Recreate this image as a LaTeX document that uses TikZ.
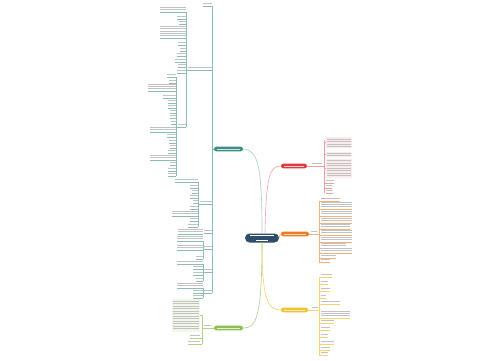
\documentclass[tikz,border=0pt]{standalone}
\begin{document}
\begin{tikzpicture}[x=1pt,y=-1pt]
\definecolor{cdark}{HTML}{2E4D6B}
\definecolor{cteal}{HTML}{3F8F84}
\definecolor{cred}{HTML}{E0393E}
\definecolor{corange}{HTML}{EE7A22}
\definecolor{cyellow}{HTML}{F2C12E}
\definecolor{cgreen}{HTML}{8CC152}
\useasboundingbox (0,0) rectangle (500,360);
\fill[white] (0,0) rectangle (500,360);
\tikzset{pill/.style={rounded corners=2.3pt,minimum height=4.6pt,inner sep=0pt,text width=0pt},
  thinline/.style={line width=0.3pt}}
% text bars: color, xleft, xright, y(baseline underline), lines
\newcommand\tb[5]{\foreach \k in {1,...,#5}{\fill[black!24] (#2,#4-0.5-2.3*\k) rectangle (#3,#4+0.4-2.3*\k);}\draw[#1,thinline] (#2,#4) -- (#3,#4);}
% main nodes
\node[pill,fill=cdark,minimum width=34pt,minimum height=9pt,rounded corners=4.5pt] (c) at (262,238) {};
\fill[white] (250,235.4) rectangle (274,236.3);
\fill[white] (256,239.5) rectangle (268,240.4);
\node[pill,fill=cteal,minimum width=29pt] (t) at (228.5,149) {};
\node[pill,fill=cred,minimum width=26pt] (r) at (294,166) {};
\node[pill,fill=corange,minimum width=28pt] (o) at (295,234) {};
\node[pill,fill=cyellow,minimum width=27pt] (y) at (294.5,310) {};
\node[pill,fill=cgreen,minimum width=29pt] (g) at (228.5,328) {};
\foreach \n in {t,r,o,y,g}{\fill[white,opacity=.75] ([xshift=3pt,yshift=0.4pt]\n.west) rectangle ([xshift=-3pt,yshift=-0.4pt]\n.east);}
% curves
\draw[cteal!45,line width=0.6pt] (c.north) .. controls (262,165) and (258,150) .. (t.east);
\draw[cred!45,line width=0.6pt] ([xshift=3pt]c.north) .. controls (266,175) and (270,166) .. (r.west);
\draw[corange!60,line width=0.6pt] (c.east) .. controls (279,236) .. (o.west);
\draw[cyellow!70,line width=0.6pt] (c.south) .. controls (262,300) and (268,310) .. (y.west);
\draw[cgreen!70,line width=0.6pt] (c.south) .. controls (262,318) and (256,328) .. (g.east);
% red branch
\draw[cred!50,thinline] (r.east) -- (312,166);
\tb{cred!50}{312}{322}{166}{1}
\draw[cred!50,thinline] (322,166) -- (324,166) (324,140) -- (324,193);
\fill[cred!10] (326,137) rectangle (352,148);
\foreach \yy in {139,141.5,144,146.5}{\fill[black!24] (327,\yy-0.5) rectangle (351,\yy+0.4);}
\fill[cred!10] (326,152) rectangle (352,157);
\foreach \yy in {153.5,155.5}{\fill[black!24] (327,\yy-0.5) rectangle (351,\yy+0.4);}
\fill[cred!10] (326,159) rectangle (352,178);
\foreach \yy in {160.5,163,165.5,168,170.5,173,175.5}{\fill[black!24] (327,\yy-0.5) rectangle (351,\yy+0.4);}
\tb{cred!50}{326}{334}{183}{1}
\tb{cred!50}{326}{332}{188}{1}
\tb{cred!50}{326}{333}{193}{1}
\foreach \yy in {142,154.5,168,183,188}{\draw[cred!50,thinline] (324,\yy) -- (326,\yy);}
% orange branch
\draw[corange!60,thinline] (o.east) -- (311,234);
\tb{corange!60}{311}{317}{234}{1}
\draw[corange!60,thinline] (317,234) -- (319,234) (319,201) -- (319,262);
\foreach \yy/\xx/\nl in {201/340/1,209/352/3,216/352/2,223/352/2,229/350/2,235/352/2,242/352/2,248/346/2,253/352/2,258/336/1,262/330/1}{\tb{corange!60}{321}{\xx}{\yy}{\nl}\draw[corange!60,thinline] (319,\yy) -- (321,\yy);}
% yellow branch
\draw[cyellow!70,thinline] (y.east) -- (312,310);
\tb{cyellow!70}{312}{318}{310}{1}
\draw[cyellow!70,thinline] (318,310) -- (319,310) (319,277) -- (319,355);
\foreach \yy/\xx/\nl in {277/332/1,284/328/1,291/330/1,298/326/1,304/340/1,318/350/3,323/334/1,330/330/1,337/328/1,344/334/1,350/330/1,355/328/1}{\tb{cyellow!70}{321}{\xx}{\yy}{\nl}\draw[cyellow!70,thinline] (319,\yy) -- (321,\yy);}
% green branch
\draw[cgreen!70,thinline] (g.west) -- (211,328);
\tb{cgreen!70}{204}{211}{328}{1}
\draw[cgreen!70,thinline] (204,328) -- (202,328) (202,315) -- (202,344);
\fill[cgreen!12] (172,299) rectangle (200,332);
\foreach \yy in {301,303.5,306,308.5,311,313.5,316,318.5,321,323.5,326,328.5}{\fill[black!24] (173,\yy-0.5) rectangle (199,\yy+0.4);}
\draw[cgreen!70,thinline] (200,315) -- (202,315);
\tb{cgreen!70}{190}{200}{338}{1}
\tb{cgreen!70}{188}{200}{344}{1}
\draw[cgreen!70,thinline] (200,338) -- (202,338) (200,344) -- (202,344);
% teal branch
\draw[cteal!60,thinline] (t.west) -- (212,149) (212,6) -- (212,293);
\tb{cteal!60}{203}{212}{6}{1}
\tb{cteal!60}{188}{212}{70}{1}
% L1 subtree
\draw[cteal!60,thinline] (186,12) -- (186,127) (186,70) -- (188,70);
\foreach \yy/\xx/\nl in {12/160/2,19/177/1,24/179/1,31/160/2,38/160/3,45/178/1,51/180/1,56/177/1,62/175/1,67/178/1,73/177/1}{\tb{cteal!60}{\xx}{186}{\yy}{\nl}}
\tb{cteal!60}{178}{186}{127}{1}
\draw[cteal!60,thinline] (176,77) -- (176,176) (176,127) -- (178,127);
\foreach \yy/\xx/\nl in {77/167/1,83/169/1,91/148/3,98/163/1,103/168/1,108/168/1,113/170/1,118/170/1,124/171/1,132/150/2,137/167/1,143/169/1,148/170/1,153/168/1,160/150/2,165/170/1,171/168/1,176/168/1}{\tb{cteal!60}{\xx}{176}{\yy}{\nl}}
% S2
\tb{cteal!60}{200}{212}{204}{1}
\draw[cteal!60,thinline] (198,182) -- (198,227) (198,204) -- (200,204);
\foreach \yy/\xx/\nl in {182/175/1,188/190/1,193/192/1,198/190/1,203/193/1,209/190/1,216/172/2,221/190/1,227/188/1}{\tb{cteal!60}{\xx}{198}{\yy}{\nl}}
% S3..S6
\tb{cteal!60}{204}{212}{233}{1}
\tb{cteal!60}{178}{203}{234}{2}
\tb{cteal!60}{204}{212}{249}{1}
\draw[cteal!60,thinline] (203,241) -- (203,259);
\foreach \yy/\xx/\nl in {241/177/2,250/177/2,259/196/1}{\tb{cteal!60}{\xx}{203}{\yy}{\nl}}
\tb{cteal!60}{204}{212}{272}{1}
\draw[cteal!60,thinline] (203,264) -- (203,281);
\foreach \yy/\xx/\nl in {264/177/1,269/193/1,275/193/1,281/196/1}{\tb{cteal!60}{\xx}{203}{\yy}{\nl}}
\tb{cteal!60}{204}{212}{293}{1}
\draw[cteal!60,thinline] (203,288) -- (203,298);
\foreach \yy/\xx/\nl in {288/177/2,293/193/1,298/193/1}{\tb{cteal!60}{\xx}{203}{\yy}{\nl}}
\end{tikzpicture}
\end{document}
